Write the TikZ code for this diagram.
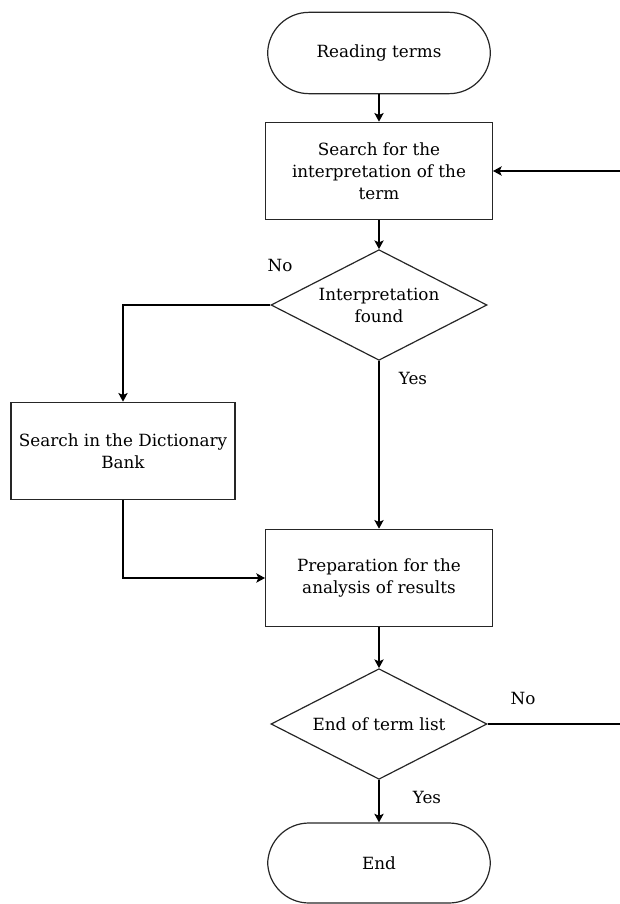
\documentclass[tikz,border=0pt]{standalone}
\usepackage{fontspec}
\setmainfont{DejaVu Serif}
\usetikzlibrary{arrows.meta,positioning,shapes.geometric}

\tikzset{
  terminal/.style={draw=black!85,line width=0.9pt,rectangle,rounded corners=31pt,
    minimum width=167pt,minimum height=61pt,align=center},
  process/.style={draw=black!85,line width=1pt,rectangle,
    minimum width=170pt,minimum height=73pt,align=center},
  decision/.style={draw=black!85,line width=0.9pt,diamond,aspect=2,inner sep=0pt,
    minimum width=162pt,minimum height=83pt,align=center},
  flow/.style={line width=0.9pt,-{Stealth[length=6.5pt,width=7pt,inset=1.5pt]}},
  plain/.style={line width=0.9pt}
}

\begin{document}
\begin{tikzpicture}[x=0.75pt,y=-0.75pt,font=\fontsize{12.6}{16.5}\selectfont]
  \useasboundingbox (0,0) rectangle (620,904);
  % steps
  \node[terminal] (read) at (379,53) {Reading terms};
  \node[process] (search) at (379,171) {Search for the\\interpretation of the\\term};
  \node[decision] (found) at (379,305) {Interpretation\\found};
  \node[process,minimum width=168pt] (dict) at (123,451) {Search in the Dictionary\\Bank};
  \node[process] (prep) at (379,578) {Preparation for the\\analysis of results};
  \node[decision] (listend) at (379,724) {End of term list};
  \node[terminal,minimum height=60pt] (finish) at (379,863) {End};
  \coordinate (loopin) at (620,171);
  \coordinate (loopout) at (620,724);
  % connectors
  \draw[flow] (read) -- (search);
  \draw[flow] (search) -- (found);
  \draw[flow] (found.west) -| (dict.north);
  \draw[flow] (found.south) -- (prep.north);
  \draw[flow] (dict.south) |- (prep.west);
  \draw[flow] (prep) -- (listend);
  \draw[flow] (listend) -- (finish);
  \draw[plain] (listend.east) -- (loopout);
  \draw[flow] (loopin) -- (search.east);
  % labels
  \node at (280,265) {No};
  \node at (413,378) {Yes};
  \node at (523,698) {No};
  \node at (427,797) {Yes};
\end{tikzpicture}
\end{document}
